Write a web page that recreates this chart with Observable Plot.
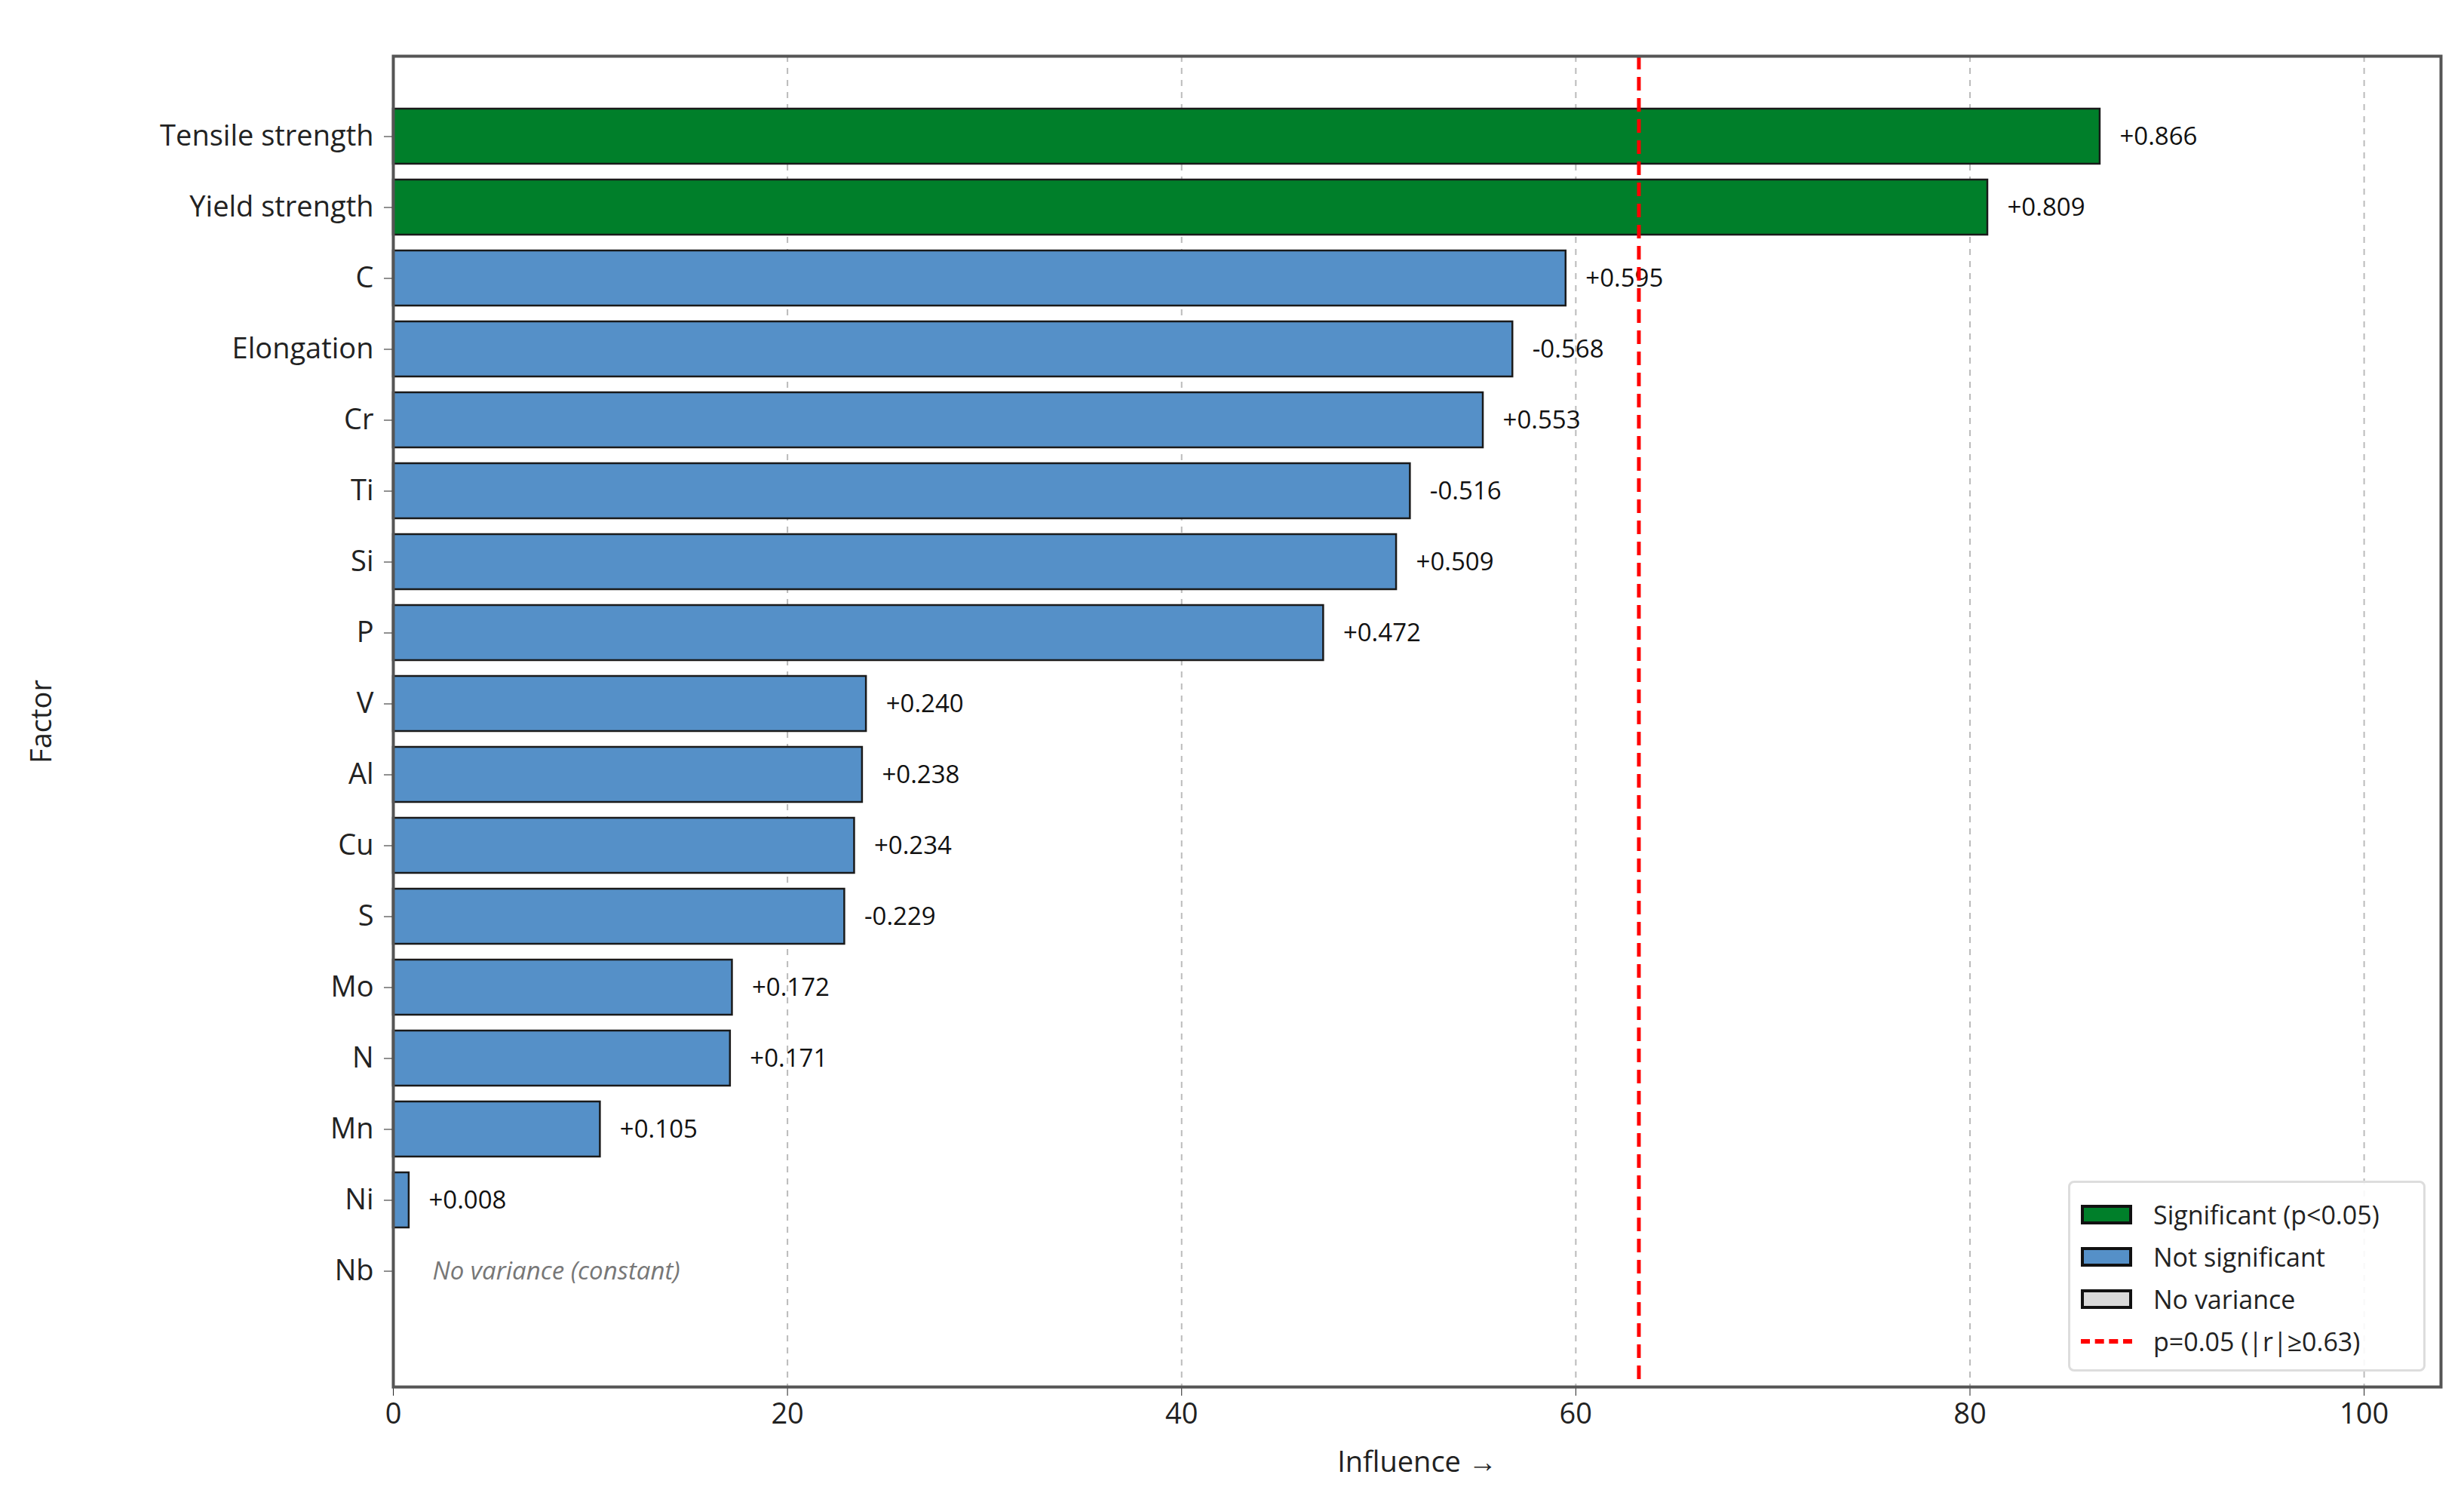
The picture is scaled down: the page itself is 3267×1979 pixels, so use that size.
<!DOCTYPE html>
<html><head><meta charset="utf-8">
<script src="https://cdn.jsdelivr.net/npm/d3@7"></script>
<script src="https://cdn.jsdelivr.net/npm/@observablehq/plot@0.6"></script>
<style>
body{margin:0;background:#fff;font-family:"Open Sans",sans-serif}
#wrap{position:relative;width:3267px;height:1979px}
#legend{position:absolute;left:2742px;top:1565px;width:474px;height:253px;box-sizing:border-box;border:3px solid #ddd;border-radius:8px;background:rgba(255,255,255,0.9);padding:14px 0 0 14px;font-size:34px;color:#222}
.row{display:flex;align-items:center;height:56px}
.sw{width:68px;height:26px;border:4px solid #111;box-sizing:border-box;margin-right:28px}
.dash{width:68px;margin-right:28px;border-top:6px dashed red;height:0}
</style></head><body>
<div id="wrap"><div id="chart"></div>
<div id="legend">
<div class="row"><div class="sw" style="background:#007f2a"></div>Significant (p&lt;0.05)</div>
<div class="row"><div class="sw" style="background:#5590c8"></div>Not significant</div>
<div class="row"><div class="sw" style="background:#d9d9d9"></div>No variance</div>
<div class="row"><div class="dash"></div>p=0.05 (|r|≥0.63)</div>
</div></div>
<script>
const factors = ["Tensile strength","Yield strength","C","Elongation","Cr","Ti","Si","P","V","Al","Cu","S","Mo","N","Mn","Ni","Nb"];
const correlations = [0.866,0.809,0.595,-0.568,0.553,-0.516,0.509,0.472,0.240,0.238,0.234,-0.229,0.172,0.171,0.105,0.008,null];
const threshold = 0.632;
const xTicks = [0,20,40,60,80,100];

const data = factors.map((f,i)=>{
  const r = correlations[i];
  return {factor:f, r, influence: r==null?0:Math.abs(r)*100,
    status: r==null?"none":(Math.abs(r)>=threshold?"sig":"ns"),
    label: r==null?"":(r>=0?"+":"")+r.toFixed(3)};
});
const withVal = data.filter(d=>d.r!=null);
const colorMap = {sig:"#007f2a", ns:"#5590c8", none:"#d9d9d9"};

const chart = Plot.plot({
  width:3267, height:1979,
  marginLeft:521, marginRight:31, marginTop:74, marginBottom:141,
  style:{fontFamily:"Open Sans, sans-serif", fontSize:"38px", color:"#222", background:"#fff"},
  x:{domain:[0,103.9], ticks:xTicks, label:"Influence", labelAnchor:"center", labelOffset:112, tickSize:12, tickPadding:10},
  y:{domain:factors, range:[117,1748], padding:0.22, label:"Factor", labelAnchor:"center", labelOffset:480, tickSize:12, tickPadding:14},
  marks:[
    Plot.gridX(xTicks.slice(1), {stroke:"#bbb", strokeOpacity:1, strokeDasharray:"8,8", strokeWidth:2}),
    Plot.barX(withVal, {x:"influence", y:"factor", fill:d=>colorMap[d.status], stroke:"#1a1a1a", strokeWidth:2.5}),
    Plot.text(withVal, {x:"influence", y:"factor", text:"label", textAnchor:"start", dx:26, fontSize:33, fill:"#111"}),
    Plot.text(data.filter(d=>d.r==null), {x:0, y:"factor", text:()=>"No variance (constant)", textAnchor:"start", dx:52, fontSize:33, fontStyle:"italic", fill:"#777"}),
    Plot.ruleX([threshold*100], {stroke:"red", strokeWidth:5, strokeDasharray:"18,10"}),
    Plot.frame({stroke:"#555", strokeWidth:4})
  ]
});
document.getElementById("chart").appendChild(chart);
</script></body></html>
